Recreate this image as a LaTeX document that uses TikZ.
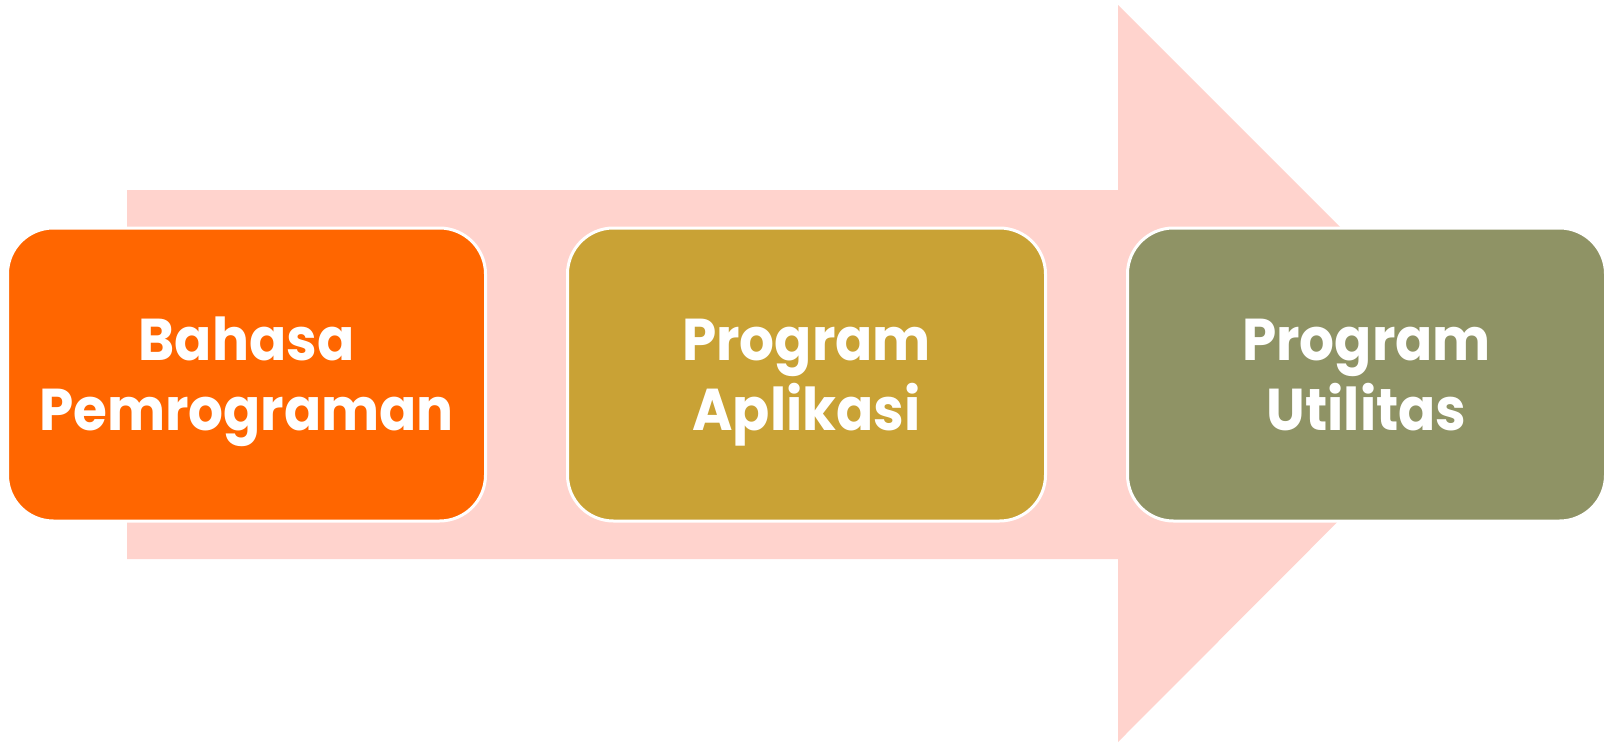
\documentclass[tikz,border=0pt]{standalone}
\usepackage{fontspec}
\newfontfamily\boxfont{Poppins}[FakeStretch=0.93]
\definecolor{arrowpink}{HTML}{FFD3CD}
\definecolor{boxorange}{HTML}{FF6600}
\definecolor{boxgold}{HTML}{C9A235}
\definecolor{boxolive}{HTML}{8F9365}
\tikzset{
  stagebox/.style={rectangle, rounded corners=46pt, draw=white, line width=3pt,
    minimum width=478pt, minimum height=293pt, inner sep=0pt,
    align=center, text=white, text height=112pt, text depth=0pt,
    font=\boxfont\bfseries\fontsize{59}{70}\selectfont}
}
\begin{document}
\begin{tikzpicture}[x=1pt,y=-1pt]
\path[use as bounding box] (0,0) rectangle (1604,742);
\fill[arrowpink] (127,190) -- (1118,190) -- (1118,5) -- (1486,373) -- (1118,742) -- (1118,559) -- (127,559) -- cycle;
\node[stagebox, fill=boxorange] (b1) at (246.5,374.5) {Bahasa\\Pemrograman};
\node[stagebox, fill=boxgold] (b2) at (806.5,374.5) {Program\\Aplikasi};
\node[stagebox, fill=boxolive] (b3) at (1366.5,374.5) {Program\\Utilitas};
\end{tikzpicture}
\end{document}
